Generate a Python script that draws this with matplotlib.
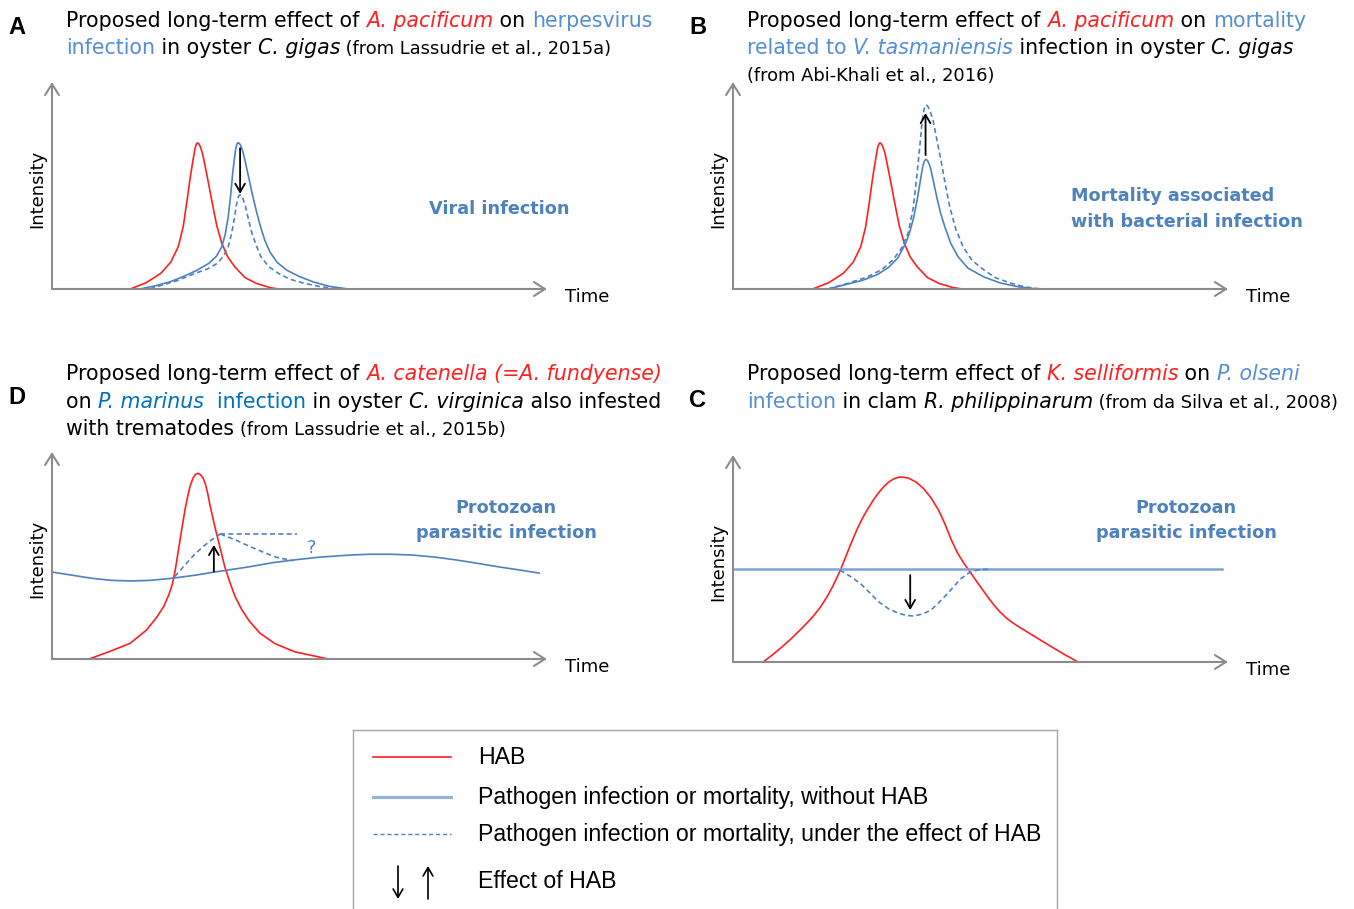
import matplotlib.pyplot as plt

W, H = 1354, 909

# ---------------- data (time / intensity, 0-100 schematic units) ----------------
# A : A. pacificum vs herpesvirus
a_hab_t = [15.8, 19.0, 22.0, 24.0, 25.5, 26.5, 27.3, 27.9, 28.3, 28.6, 28.9, 29.15, 29.4,
           29.7, 30.0, 30.4, 30.8, 31.3, 31.9, 32.5, 33.3, 34.3, 35.5, 36.9, 39.0, 41.3,
           44.0, 45.7]
a_hab_y = [0, 3.0, 7.6, 13.0, 20.4, 30.0, 43.0, 53.5, 59.5, 63.9, 68.0, 70.0, 70.6,
           70.0, 68.6, 65.5, 61.0, 55.0, 47.5, 40.0, 30.5, 22.1, 15.5, 10.8, 5.5, 2.7,
           0.7, 0]
a_path_t = [17.8, 21.0, 24.0, 26.4, 29.0, 31.7, 33.2, 34.3, 35.0, 35.6, 36.1, 36.5, 36.8,
            37.1, 37.35, 37.6, 37.9, 38.2, 38.6, 39.0, 39.5, 40.0, 40.4, 41.3, 42.2, 43.0,
            44.0, 45.5, 47.5, 50.0, 52.7, 56.0, 59.8]
a_path_y = [0, 1.6, 3.6, 5.9, 8.7, 12.4, 15.8, 20.4, 26.5, 34.9, 45.5, 55.9, 62.0,
            67.5, 70.0, 70.7, 70.2, 68.9, 66.0, 62.0, 56.5, 51.0, 46.5, 37.5, 29.5, 23.5,
            18.0, 12.8, 9.0, 6.0, 3.5, 1.3, 0]
a_eff_t = [19.8, 21.1, 25.0, 29.0, 31.5, 33.4, 34.6, 35.6, 36.3, 36.9, 37.2, 37.5, 37.75,
           38.0, 38.3, 38.6, 39.1, 39.7, 40.4, 41.3, 42.2, 43.8, 45.7, 48.0, 51.0, 54.5,
           58.0]
a_eff_y = [0, 1.1, 3.8, 7.6, 9.8, 12.4, 15.8, 20.4, 27.0, 34.9, 40.0, 43.5, 45.0,
           45.5, 45.0, 43.5, 39.8, 33.5, 26.9, 20.8, 15.6, 10.8, 7.6, 4.8, 2.7, 1.0,
           0]
a_arrow = [38.0, 68.0, 46.0]   # time, from, to

# B : A. pacificum vs V. tasmaniensis mortality
b_hab_t = [16.1, 19.3, 22.3, 24.3, 25.8, 26.8, 27.6, 28.2, 28.6, 28.9, 29.2, 29.45, 29.7,
           30.0, 30.3, 30.7, 31.1, 31.6, 32.2, 32.8, 33.6, 34.6, 35.8, 37.2, 39.3, 41.6,
           44.4, 46.3]
b_hab_y = [0, 3.0, 7.6, 13.0, 20.4, 30.0, 43.0, 53.5, 59.5, 63.9, 68.0, 70.0, 70.6,
           70.0, 68.6, 65.5, 61.0, 55.0, 47.5, 40.0, 30.5, 22.1, 15.5, 10.8, 5.5, 2.7,
           0.7, 0]
b_path_t = [19.2, 22.5, 26.3, 29.2, 31.5, 33.3, 34.9, 35.7, 36.5, 37.2, 37.65, 38.0, 38.35,
            38.7, 39.0, 39.3, 39.65, 40.0, 40.4, 40.8, 41.2, 41.9, 42.8, 44.0, 45.5, 47.5,
            50.7, 54.0, 57.8, 61.4]
b_path_y = [0, 2.0, 4.3, 7.0, 10.6, 15.0, 22.2, 27.5, 34.5, 43.0, 49.5, 54.5, 59.5,
            62.0, 62.6, 62.0, 60.3, 57.5, 53.0, 48.5, 44.0, 37.0, 30.0, 22.0, 15.5, 10.0,
            5.8, 2.9, 1.0, 0]
b_eff_t = [19.2, 23.0, 27.1, 30.0, 32.3, 34.0, 35.4, 36.4, 37.2, 37.7, 38.1, 38.4, 38.7,
           39.0, 39.35, 39.8, 40.4, 41.2, 42.0, 42.9, 43.8, 45.0, 46.5, 48.3, 50.7, 53.0,
           56.0, 59.0, 62.2]
b_eff_y = [0, 2.6, 5.8, 9.3, 14.0, 19.5, 27.1, 39.0, 55.9, 68.0, 78.4, 84.5, 87.8,
           89.0, 88.3, 86.0, 81.6, 72.0, 62.3, 50.5, 39.6, 29.0, 20.3, 13.8, 9.2, 5.5,
           2.9, 1.0, 0]
b_arrow = [38.9, 64.7, 85.0]

# D : A. catenella vs P. marinus
d_hab_t = [7.5, 11.5, 15.8, 19.1, 21.2, 22.6, 23.6, 24.3, 24.9, 25.5, 26.2, 26.9, 27.5,
           27.9, 28.5, 29.0, 29.5, 30.0, 30.5, 31.0, 31.5, 31.9, 32.9, 33.9, 34.9, 36.0,
           37.0, 38.3, 39.8, 42.0, 45.0, 49.0, 55.8]
d_hab_y = [0, 3.5, 7.6, 14.0, 20.3, 25.5, 31.0, 36.0, 43.0, 52.0, 62.5, 72.5, 79.5,
           83.5, 87.5, 89.2, 89.7, 89.0, 87.5, 84.5, 79.5, 74.5, 63.9, 54.3, 44.6, 36.6,
           30.1, 24.0, 18.5, 12.5, 7.5, 3.5, 0]
d_path_t = [0, 4, 8, 12, 16, 20, 24.6, 29, 33.3, 37, 40.0, 44.5, 48.7, 54.0, 60.2, 64.2,
            68.5, 72.9, 77.5, 81.8, 86, 90.5, 94.5, 98.4]
d_path_y = [42.0, 40.5, 39.0, 38.0, 37.7, 38.0, 39.1, 40.5, 42.2, 43.5, 44.6, 46.5, 47.8,
            49.2, 50.2, 50.6, 50.6, 50.2, 49.2, 47.8, 46.2, 44.4, 43.0, 41.5]
d_rise_t = [24.8, 26.7, 28.6, 30.5, 32.4, 34.0]
d_rise_y = [39.8, 45.0, 50.0, 54.3, 57.8, 60.4]
d_flat_t = [34.0, 49.4]
d_flat_y = [60.4, 60.4]
d_fall_t = [34.0, 37.0, 40.0, 43.0, 45.4, 48.7]
d_fall_y = [60.4, 57.6, 54.3, 51.3, 49.1, 47.5]
d_arrow = [32.7, 42.2, 55.1]
d_query = [52.5, 53.6]

# C : K. selliformis vs P. olseni
c_hab_t = [6.1, 8.0, 10.0, 12.0, 14.0, 16.0, 17.6, 19.0, 20.2, 21.0, 21.8, 22.6, 23.6,
           24.5, 25.5, 26.5, 27.5, 28.5, 29.5, 30.5, 31.5, 32.5, 33.4, 34.1, 35.5, 37.0,
           38.5, 40.0, 41.5, 42.8, 44.1, 45.4, 46.7, 47.9, 49.2, 50.4, 51.6, 52.8, 53.9,
           55.2, 56.6, 58.0, 59.6, 61.3, 63.0, 64.8, 67.2, 69.7]
c_hab_y = [0, 3.5, 7.5, 11.8, 16.5, 21.5, 26.3, 31.5, 36.8, 40.8, 45.0, 49.8, 55.8,
           61.0, 66.3, 71.0, 75.0, 78.8, 82.0, 84.8, 87.0, 88.5, 89.2, 89.4, 88.8, 86.9,
           83.8, 79.3, 73.5, 66.8, 59.0, 52.5, 47.5, 43.5, 39.0, 35.0, 31.0, 27.3, 24.3,
           21.3, 18.8, 16.6, 14.3, 11.8, 9.3, 6.7, 3.3, 0]
c_path_t = [0, 98.8]
c_path_y = [44.9, 44.9]
c_eff_t = [21.6, 23.6, 25.7, 27.6, 29.4, 31.5, 33.5, 35.0, 36.5, 38.3, 40.0, 41.7, 43.4,
           44.8, 46.1, 47.5, 48.8, 50.2, 51.5]
c_eff_y = [44.4, 41.5, 38.0, 33.5, 29.1, 25.6, 23.5, 22.5, 22.2, 23.2, 25.1, 29.0, 33.2,
           37.0, 40.4, 42.8, 44.1, 44.7, 44.8]
c_arrow = [35.8, 42.0, 25.1]

legend_labels = ["HAB",
                 "Pathogen infection or mortality, without HAB",
                 "Pathogen infection or mortality, under the effect of HAB",
                 "Effect of HAB"]

# ---------------- styles ----------------
RED = '#ff2020'
BLUE = '#4f81bd'
LBLUE = '#558ed5'
DBLUE = '#0070c0'
GREY = '#8c8c8c'
DASH = (0, (3, 2))
TFONT = 'DejaVu Sans'
TSIZE = 14.8
SSIZE = 12.9
PW, PH = 495, 207   # plot box size in pixels

fig = plt.figure(figsize=(W / 100, H / 100), dpi=100)
rend = fig.canvas.get_renderer()


def fx(px):
    return px / W


def fy(py):
    return 1 - py / H


def text_w(s, **kw):
    t1 = fig.text(0, 0, s + '|', **kw)
    t2 = fig.text(0, 0, '|', **kw)
    w = t1.get_window_extent(rend).width - t2.get_window_extent(rend).width
    t1.remove()
    t2.remove()
    return w


def title_line(x, y, parts):
    # parts: (text, colour, italic, small)
    for s, col, it, small in parts:
        kw = dict(family=TFONT, fontsize=SSIZE if small else TSIZE, color=col,
                  style='italic' if it else 'normal')
        fig.text(fx(x), fy(y), s, ha='left', va='baseline', **kw)
        x += text_w(s, **kw)


def panel(x0, y0, letter):
    ax = fig.add_axes([fx(x0), fy(y0), PW / W, PH / H])
    ax.set_xlim(0, 100)
    ax.set_ylim(0, 100)
    ax.axis('off')
    ap = dict(arrowstyle='->,head_length=0.8,head_width=0.5', color=GREY, lw=1.5,
              shrinkA=0, shrinkB=0)
    ax.annotate('', xy=(0, 1), xytext=(0, 0), xycoords='axes fraction', arrowprops=ap)
    ax.annotate('', xy=(1, 0), xytext=(0, 0), xycoords='axes fraction', arrowprops=ap)
    fig.text(fx(x0 - 15), fy(y0 - PH / 2 + 3), 'Intensity', rotation=90, family=TFONT,
             fontsize=13, ha='center', va='center', color='k')
    fig.text(fx(x0 + PW + 18), fy(y0 + 8), 'Time', family=TFONT, fontsize=13,
             ha='left', va='center', color='k')
    fig.text(fx(x0 - 44), fy(y0 - 255), letter, family='Liberation Sans', weight='bold',
             fontsize=17, ha='left', va='baseline', color='k')
    return ax


def effect_arrow(ax, a):
    ax.annotate('', xy=(a[0], a[2]), xytext=(a[0], a[1]),
                arrowprops=dict(arrowstyle='->,head_length=0.6,head_width=0.35',
                                color='k', lw=1.3, shrinkA=0, shrinkB=0))


def curve(ax, t, y, col, ls='-', lw=1.2):
    ax.plot(t, y, color=col, ls=ls, lw=lw, clip_on=False, solid_joinstyle='round')


def label(x, y, s, ha='center'):
    fig.text(fx(x), fy(y), s, family=TFONT, weight='bold', fontsize=12.7, color=BLUE,
             ha=ha, va='center')


# ---------------- panel A ----------------
ax = panel(52, 289, 'A')
curve(ax, a_hab_t, a_hab_y, RED)
curve(ax, a_path_t, a_path_y, BLUE)
curve(ax, a_eff_t, a_eff_y, BLUE, DASH)
effect_arrow(ax, a_arrow)
label(499, 209, 'Viral infection')
title_line(66, 27, [("Proposed long-term effect of ", 'k', False, False),
                    ("A. pacificum", RED, True, False),
                    (" on ", 'k', False, False),
                    ("herpesvirus", LBLUE, False, False)])
title_line(66, 54, [("infection", LBLUE, False, False),
                    (" in oyster ", 'k', False, False),
                    ("C. gigas", 'k', True, False),
                    (" (from Lassudrie et al., 2015a)", 'k', False, True)])

# ---------------- panel B ----------------
ax = panel(733, 289, 'B')
curve(ax, b_hab_t, b_hab_y, RED)
curve(ax, b_path_t, b_path_y, BLUE)
curve(ax, b_eff_t, b_eff_y, BLUE, DASH)
effect_arrow(ax, b_arrow)
label(1071, 196, 'Mortality associated', ha='left')
label(1071, 222, 'with bacterial infection', ha='left')
title_line(747, 27, [("Proposed long-term effect of ", 'k', False, False),
                     ("A. pacificum", RED, True, False),
                     (" on ", 'k', False, False),
                     ("mortality", LBLUE, False, False)])
title_line(747, 54, [("related to ", LBLUE, False, False),
                     ("V. tasmaniensis", LBLUE, True, False),
                     (" infection in oyster ", 'k', False, False),
                     ("C. gigas", 'k', True, False)])
title_line(747, 81, [("(from Abi-Khali et al., 2016)", 'k', False, True)])

# ---------------- panel D ----------------
ax = panel(52, 659, 'D')
curve(ax, d_hab_t, d_hab_y, RED)
curve(ax, d_path_t, d_path_y, BLUE)
curve(ax, d_rise_t, d_rise_y, BLUE, DASH)
curve(ax, d_flat_t, d_flat_y, BLUE, DASH)
curve(ax, d_fall_t, d_fall_y, BLUE, DASH)
effect_arrow(ax, d_arrow)
ax.text(d_query[0], d_query[1], '?', family=TFONT, fontsize=13, color=BLUE,
        ha='center', va='center')
label(506, 508, 'Protozoan')
label(506, 533, 'parasitic infection')
title_line(66, 380, [("Proposed long-term effect of ", 'k', False, False),
                     ("A. catenella (=A. fundyense)", RED, True, False)])
title_line(66, 408, [("on ", 'k', False, False),
                     ("P. marinus", DBLUE, True, False),
                     ("  infection", DBLUE, False, False),
                     (" in oyster ", 'k', False, False),
                     ("C. virginica", 'k', True, False),
                     (" also infested", 'k', False, False)])
title_line(66, 435, [("with trematodes ", 'k', False, False),
                     ("(from Lassudrie et al., 2015b)", 'k', False, True)])

# ---------------- panel C ----------------
ax = panel(733, 662, 'C')
curve(ax, c_hab_t, c_hab_y, RED)
curve(ax, c_path_t, c_path_y, '#7fa3d3', lw=1.8)
curve(ax, c_eff_t, c_eff_y, BLUE, DASH)
effect_arrow(ax, c_arrow)
label(1186, 508, 'Protozoan')
label(1186, 533, 'parasitic infection')
title_line(747, 380, [("Proposed long-term effect of ", 'k', False, False),
                      ("K. selliformis", RED, True, False),
                      (" on ", 'k', False, False),
                      ("P. olseni", LBLUE, True, False)])
title_line(747, 408, [("infection", LBLUE, False, False),
                      (" in clam ", 'k', False, False),
                      ("R. philippinarum", 'k', True, False),
                      (" (from da Silva et al., 2008)", 'k', False, True)])

# ---------------- legend box ----------------
lax = fig.add_axes([fx(353), fy(915), 704 / W, 185 / H])
lax.set_xlim(353, 1057)
lax.set_ylim(915, 730)
lax.set_xticks([])
lax.set_yticks([])
for sp in lax.spines.values():
    sp.set_color('#a6a6a6')
    sp.set_linewidth(1)
lax.plot([373, 451], [757, 757], color=RED, lw=1.2)
lax.plot([373, 451], [797, 797], color='#95b3d7', lw=2.2)
lax.plot([373, 451], [834, 834], color=BLUE, lw=1.0, ls=DASH)
lap = dict(arrowstyle='->,head_length=0.6,head_width=0.35', color='k', lw=1.2,
           shrinkA=0, shrinkB=0)
lax.annotate('', xy=(398, 899), xytext=(398, 866), arrowprops=lap)
lax.annotate('', xy=(428, 866), xytext=(428, 899), arrowprops=lap)
for yy, s in zip([757, 797, 834, 881], legend_labels):
    lax.text(478, yy, s, family='Liberation Sans', fontsize=16.7, color='k',
             ha='left', va='center')

fig.savefig('out.png', dpi=100)
